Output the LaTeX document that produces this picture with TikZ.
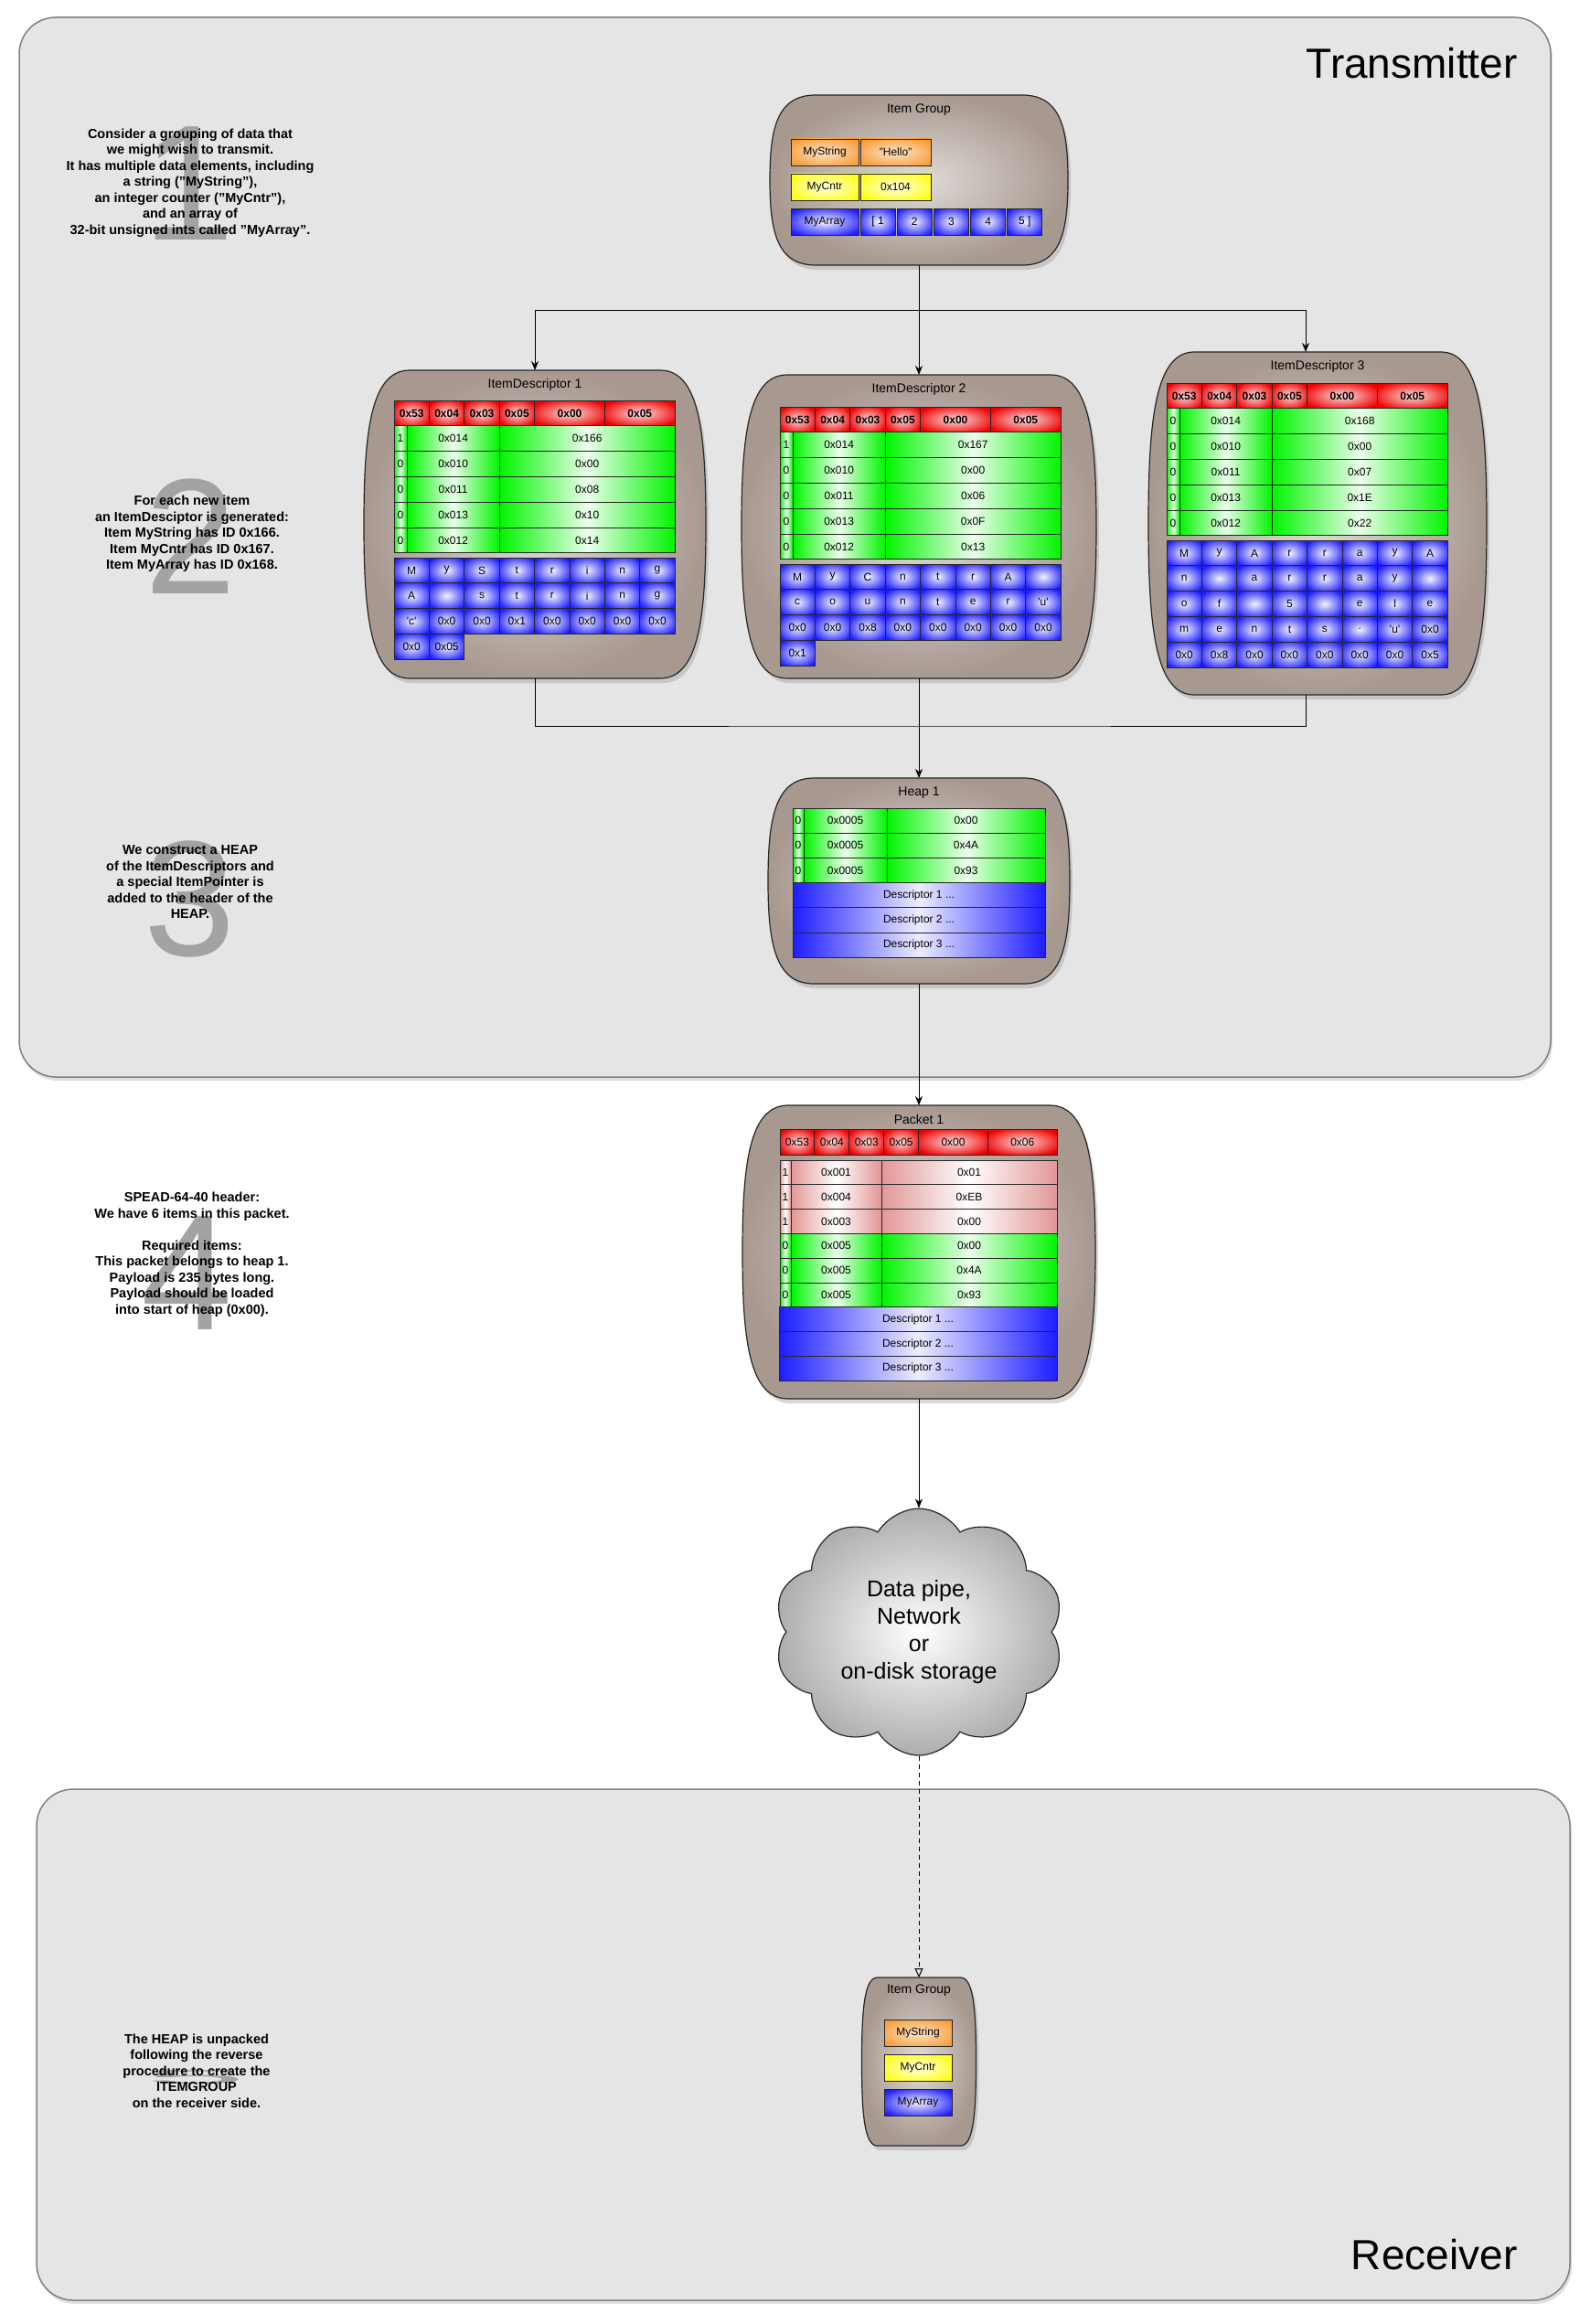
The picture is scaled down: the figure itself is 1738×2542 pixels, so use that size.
\documentclass[tikz,border=0pt]{standalone}
\usepackage{fontspec}
\setmainfont{Liberation Sans}
\usepackage{xcolor}
\usepackage{tikz}
\usetikzlibrary{shapes.symbols, arrows.meta, positioning, calc, shadows}
\definecolor{panelgray}{RGB}{229,229,229}
\definecolor{holderin}{RGB}{224,219,216}
\definecolor{holderout}{RGB}{168,153,144}
\definecolor{itemorange}{RGB}{247,150,42}
\definecolor{itemyellow}{RGB}{255,255,0}
\definecolor{itemblue}{RGB}{28,28,255}
\definecolor{itemgreen}{RGB}{0,245,0}
\definecolor{itemred}{RGB}{238,0,0}
\definecolor{itempink}{RGB}{226,150,150}
\colorlet{bluecore}{itemblue!5}
\colorlet{redcore}{itemred!12}
\colorlet{orangecore}{itemorange!25}
\colorlet{yellowcore}{itemyellow!12}
\pgfdeclareradialshading{blueglow}{\pgfpoint{0bp}{0bp}}{color(0bp)=(bluecore);color(31bp)=(itemblue);color(50bp)=(itemblue)}
\pgfdeclareradialshading{redglow}{\pgfpoint{0bp}{0bp}}{color(0bp)=(redcore);color(30bp)=(itemred);color(50bp)=(itemred)}
\pgfdeclareradialshading{orangeglow}{\pgfpoint{0bp}{0bp}}{color(0bp)=(orangecore);color(34bp)=(itemorange);color(50bp)=(itemorange)}
\pgfdeclareradialshading{yellowglow}{\pgfpoint{0bp}{0bp}}{color(0bp)=(yellowcore);color(34bp)=(itemyellow);color(50bp)=(itemyellow)}

\newcommand{\cellfont}{\fontsize{12}{14}\selectfont}
\newcommand{\sq}{\textquotesingle}
% barrel outline round a container node: name, corner inset
\newcommand{\barrel}[2]{%
  \path[holder] ($(#1.north west)+(#2,0)$) -- ($(#1.north east)+(-#2,0)$)
    .. controls ($(#1.north east)+(-0.15*#2,0)$) and ($(#1.north east)!0.4!(#1.east)$) .. (#1.east)
    .. controls ($(#1.south east)!0.4!(#1.east)$) and ($(#1.south east)+(-0.15*#2,0)$) .. ($(#1.south east)+(-#2,0)$)
    -- ($(#1.south west)+(#2,0)$)
    .. controls ($(#1.south west)+(0.15*#2,0)$) and ($(#1.south west)!0.4!(#1.west)$) .. (#1.west)
    .. controls ($(#1.north west)!0.4!(#1.west)$) and ($(#1.north west)+(0.15*#2,0)$) .. ($(#1.north west)+(#2,0)$)
    -- cycle;}

\begin{document}
\begin{tikzpicture}[
    x=1pt, y=-1pt,
    panel/.style={draw=black!50, line width=1.5pt, fill=panelgray, rounded corners=40pt, inner sep=0pt,
        drop shadow={opacity=0.25, shadow xshift=2pt, shadow yshift=-4pt}},
    holderbox/.style={inner sep=0pt, outer sep=0pt},
    holder/.style={draw=black!85, line width=1.2pt, inner color=holderin, outer color=holderout,
        drop shadow={opacity=0.3, shadow xshift=3pt, shadow yshift=-5pt}},
    headline/.style={font=\fontsize{14}{16}\selectfont, inner sep=0pt},
    cell/.style={draw=black!85, line width=0.9pt, inner sep=0pt, outer sep=0pt, anchor=north west, font=\cellfont},
    hdr/.style={cell, shade, shading=redglow},
    hdrb/.style={hdr, font=\bfseries\cellfont},
    grn/.style={cell, left color=itemgreen, right color=itemgreen, middle color=itemgreen!8},
    pnk/.style={cell, left color=itempink, right color=itempink, middle color=white},
    blu/.style={cell, shade, shading=blueglow},
    descbar/.style={cell, left color=itemblue, right color=itemblue, middle color=itemblue!8},
    org/.style={cell, shade, shading=orangeglow},
    ylw/.style={cell, shade, shading=yellowglow},
    stepnote/.style={align=center, font=\bfseries\fontsize{14.5}{17.5}\selectfont},
    bignum/.style={font=\fontsize{180}{180}\selectfont, text=black!36},
    sidename/.style={font=\fontsize{46}{50}\selectfont, anchor=base east},
    cloudy/.style={cloud, cloud puffs=10, cloud puff arc=120, aspect=1.2, draw=black!85, line width=1.2pt,
        inner color=white, outer color=black!32, minimum width=317pt, minimum height=270pt,
        align=center, font=\fontsize{25}{30}\selectfont},
    link/.style={line width=1pt},
    arrow/.style={-{Stealth[length=10pt, width=8pt]}, line width=1pt},
    feed/.style={-{Triangle[open, length=10pt, width=9pt]}, line width=1pt, dash pattern=on 5pt off 4pt}
]
    \useasboundingbox (0,0) rectangle (1738,2542);
    \fill[white] (0,0) rectangle (1738,2542);

    % the two sides
    \node[panel, minimum width=1675pt, minimum height=1159pt] (tx) at (858.5,598.5) {};
    \node[panel, minimum width=1677pt, minimum height=559pt] (rx) at (878.5,2236.5) {};
    \node[sidename] (txname) at (1663,86) {Transmitter};
    \node[sidename] (rxname) at (1663,2482) {Receiver};

    % step notes on the left
    \node[bignum] (n1) at (207,201) {1};
    \node[stepnote] (s1) at (208,200) {Consider a grouping of data that\\we might wish to transmit.\\It has multiple data elements, including\\a string ("MyString"),\\an integer counter ("MyCntr"),\\and an array of\\32-bit unsigned ints called "MyArray".};
    \node[bignum] (n2) at (209,587) {2};
    \node[stepnote] (s2) at (210,584) {For each new item\\an ItemDesciptor is generated:\\Item MyString has ID 0x166.\\Item MyCntr has ID 0x167.\\Item MyArray has ID 0x168.};
    \node[bignum] (n3) at (208,984) {3};
    \node[stepnote] (s3) at (208,965) {We construct a HEAP\\of the ItemDescriptors and\\a special ItemPointer is\\added to the header of the\\HEAP.};
    \node[bignum] (n4) at (205,1393) {4};
    \node[stepnote] (s4) at (210,1372) {SPEAD-64-40 header:\\We have 6 items in this packet.\\[17.5pt]Required items:\\This packet belongs to heap 1.\\Payload is 235 bytes long.\\Payload should be loaded\\into start of heap (0x00).};
    \node[bignum] (n5) at (214,2272) {\scalebox{1.1}[0.12]{5}};
    \node[stepnote] (s5) at (215,2265) {The HEAP is unpacked\\following the reverse\\procedure to create the\\ITEMGROUP\\on the receiver side.};

    % item group to send
    \node[holderbox, minimum width=326pt, minimum height=186pt] (ig) at (1005,197) {};
    \barrel{ig}{50}
    \node[headline] (igt) at ([yshift=-16pt]ig.north) {Item Group};
    \node[org, minimum width=74pt, minimum height=29pt] (ig-sn) at (865,152) {MyString};
    \node[org, minimum width=77pt, minimum height=29pt] (ig-sv) at (941,152) {"Hello"};
    \node[ylw, minimum width=74pt, minimum height=29pt] (ig-cn) at (865,190) {MyCntr};
    \node[ylw, minimum width=77pt, minimum height=29pt] (ig-cv) at (941,190) {0x104};
    \node[blu, minimum width=74pt, minimum height=29pt] (ig-an) at (865,228) {MyArray};
    \foreach \v [count=\i from 0] in {{[ 1},2,3,4,{5 ]}}
        \node[blu, minimum width=38pt, minimum height=29pt] (ig-a\i) at ({941+40.2*\i},228) {\v};

    % item descriptors
    \node[holderbox, minimum width=374pt, minimum height=337pt] (d1) at (585,573.5) {};
    \node[holderbox, minimum width=388pt, minimum height=332pt] (d2) at (1005,576) {};
    \node[holderbox, minimum width=370pt, minimum height=375pt] (d3) at (1441,572.5) {};
    \foreach \n in {1,2,3}{
        \barrel{d\n}{50}
        \node[headline] (d\n t) at ([yshift=-16pt]d\n.north) {ItemDescriptor \n};
    }
    \foreach \n/\X/\Y/\fl/\idv/\len/\typ/\ofs in {1/431/438/1/0x166/0x08/0x10/0x14,2/853/445/1/0x167/0x06/0x0F/0x13,3/1276/419/0/0x168/0x07/0x1E/0x22}{
        \foreach \v [count=\i from 0] in {0x53,0x04,0x03,0x05}
            \node[hdrb, minimum width=38.4pt, minimum height=27.8pt] (d\n-h\i) at ({\X+38.4*\i},\Y) {\v};
        \node[hdrb, minimum width=76.8pt, minimum height=27.8pt] (d\n-h4) at ({\X+153.6},\Y) {0x00};
        \node[hdrb, minimum width=76.8pt, minimum height=27.8pt] (d\n-h5) at ({\X+230.4},\Y) {0x05};
        \foreach \f/\k/\v [count=\i from 0] in {\fl/0x014/\idv,0/0x010/0x00,0/0x011/\len,0/0x013/\typ,0/0x012/\ofs}{
            \node[grn, minimum width=14pt, minimum height=27.8pt] (d\n-f\i) at (\X,{\Y+27.8*(\i+1)}) {\f};
            \node[grn, minimum width=101.2pt, minimum height=27.8pt] (d\n-k\i) at ({\X+14},{\Y+27.8*(\i+1)}) {\k};
            \node[grn, minimum width=192pt, minimum height=27.8pt] (d\n-v\i) at ({\X+115.2},{\Y+27.8*(\i+1)}) {\v};
        }
    }
    \foreach \row [count=\rr from 0] in {{M,y,S,t,r,i,n,g},{A,{},s,t,r,i,n,g},{\sq c\sq,0x0,0x0,0x1,0x0,0x0,0x0,0x0},{0x0,0x05}}
        \foreach \ch [count=\cc from 0] in \row
            \node[blu, minimum width=38.4pt, minimum height=27.8pt] (d1-g\rr\cc) at ({431+38.4*\cc},{610+27.8*\rr}) {\ch};
    \foreach \row [count=\rr from 0] in {{M,y,C,n,t,r,A,{}},{c,o,u,n,t,e,r,\sq u\sq},{0x0,0x0,0x8,0x0,0x0,0x0,0x0,0x0},{0x1}}
        \foreach \ch [count=\cc from 0] in \row
            \node[blu, minimum width=38.4pt, minimum height=27.8pt] (d2-g\rr\cc) at ({853+38.4*\cc},{617+27.8*\rr}) {\ch};
    \foreach \row [count=\rr from 0] in {{M,y,A,r,r,a,y,A},{n,{},a,r,r,a,y,{}},{o,f,{},5,{},e,l,e},{m,e,n,t,s,{.},\sq u\sq,0x0},{0x0,0x8,0x0,0x0,0x0,0x0,0x0,0x5}}
        \foreach \ch [count=\cc from 0] in \row
            \node[blu, minimum width=38.4pt, minimum height=27.8pt] (d3-g\rr\cc) at ({1276+38.4*\cc},{591+27.8*\rr}) {\ch};

    % heap
    \node[holderbox, minimum width=330pt, minimum height=225pt] (heap) at (1005,963.5) {};
    \barrel{heap}{50}
    \node[headline] (heapt) at ([yshift=-16pt]heap.north) {Heap 1};
    \foreach \v [count=\i from 0] in {0x00,0x4A,0x93}{
        \node[grn, minimum width=12pt, minimum height=27.2pt] (heap-f\i) at (867,{884+27.2*\i}) {0};
        \node[grn, minimum width=91pt, minimum height=27.2pt] (heap-k\i) at (879,{884+27.2*\i}) {0x0005};
        \node[grn, minimum width=173pt, minimum height=27.2pt] (heap-v\i) at (970,{884+27.2*\i}) {\v};
    }
    \foreach \i in {1,2,3}
        \node[descbar, minimum width=276pt, minimum height=27.2pt] (heap-d\i) at (867,{884+27.2*(\i+2)}) {Descriptor \i\ ...};

    % packet
    \node[holderbox, minimum width=386pt, minimum height=321pt] (pk) at (1005,1369.5) {};
    \barrel{pk}{50}
    \node[headline] (pkt) at ([yshift=-15pt]pk.north) {Packet 1};
    \foreach \v [count=\i from 0] in {0x53,0x04,0x03,0x05}
        \node[hdr, minimum width=37.9pt, minimum height=28pt] (pk-h\i) at ({853+37.9*\i},1235) {\v};
    \node[hdr, minimum width=75.8pt, minimum height=28pt] (pk-h4) at (1004.6,1235) {0x00};
    \node[hdr, minimum width=75.8pt, minimum height=28pt] (pk-h5) at (1080.4,1235) {0x06};
    \foreach \k/\v [count=\i from 0] in {0x001/0x01,0x004/0xEB,0x003/0x00}{
        \node[pnk, minimum width=12pt, minimum height=26.8pt] (pk-f\i) at (853,{1269+26.8*\i}) {1};
        \node[pnk, minimum width=99pt, minimum height=26.8pt] (pk-k\i) at (865,{1269+26.8*\i}) {\k};
        \node[pnk, minimum width=192pt, minimum height=26.8pt] (pk-v\i) at (964,{1269+26.8*\i}) {\v};
    }
    \foreach \v [count=\i from 3] in {0x00,0x4A,0x93}{
        \node[grn, minimum width=12pt, minimum height=26.8pt] (pk-f\i) at (853,{1269+26.8*\i}) {0};
        \node[grn, minimum width=99pt, minimum height=26.8pt] (pk-k\i) at (865,{1269+26.8*\i}) {0x005};
        \node[grn, minimum width=192pt, minimum height=26.8pt] (pk-v\i) at (964,{1269+26.8*\i}) {\v};
    }
    \foreach \i in {1,2,3}
        \node[descbar, minimum width=304pt, minimum height=26.8pt] (pk-d\i) at (852,{1269+26.8*(\i+5)}) {Descriptor \i\ ...};

    % transport
    \node[cloudy] (pipe) at (1005,1785) {Data pipe,\\Network\\or\\on-disk storage};

    % item group received
    \node[holderbox, minimum width=125pt, minimum height=184pt] (rig) at (1005,2255) {};
    \barrel{rig}{17}
    \node[headline] (rigt) at ([yshift=-14pt]rig.north) {Item Group};
    \node[org, minimum width=74pt, minimum height=29.5pt] (rig-s) at (967,2209) {MyString};
    \node[ylw, minimum width=74pt, minimum height=29.5pt] (rig-c) at (967,2247) {MyCntr};
    \node[blu, minimum width=74pt, minimum height=29.5pt] (rig-a) at (967,2285) {MyArray};

    % connectors
    \coordinate (split) at (1005,339);
    \coordinate (merge) at (1005,794);
    \draw[link] (ig.south) -- (split);
    \draw[arrow] (split) -- (d2.north);
    \draw[arrow] (split) -| (d1.north);
    \draw[arrow] (split) -| ([xshift=-13pt]d3.north);
    \draw[link] (d1.south) |- (merge) -| ([xshift=-13pt]d3.south);
    \draw[arrow] (d2.south) -- (heap.north);
    \draw[arrow] (heap.south) -- (pk.north);
    \draw[arrow] (pk.south) -- (pipe.north);
    \draw[feed] (pipe.south) -- (rig.north);
\end{tikzpicture}
\end{document}
